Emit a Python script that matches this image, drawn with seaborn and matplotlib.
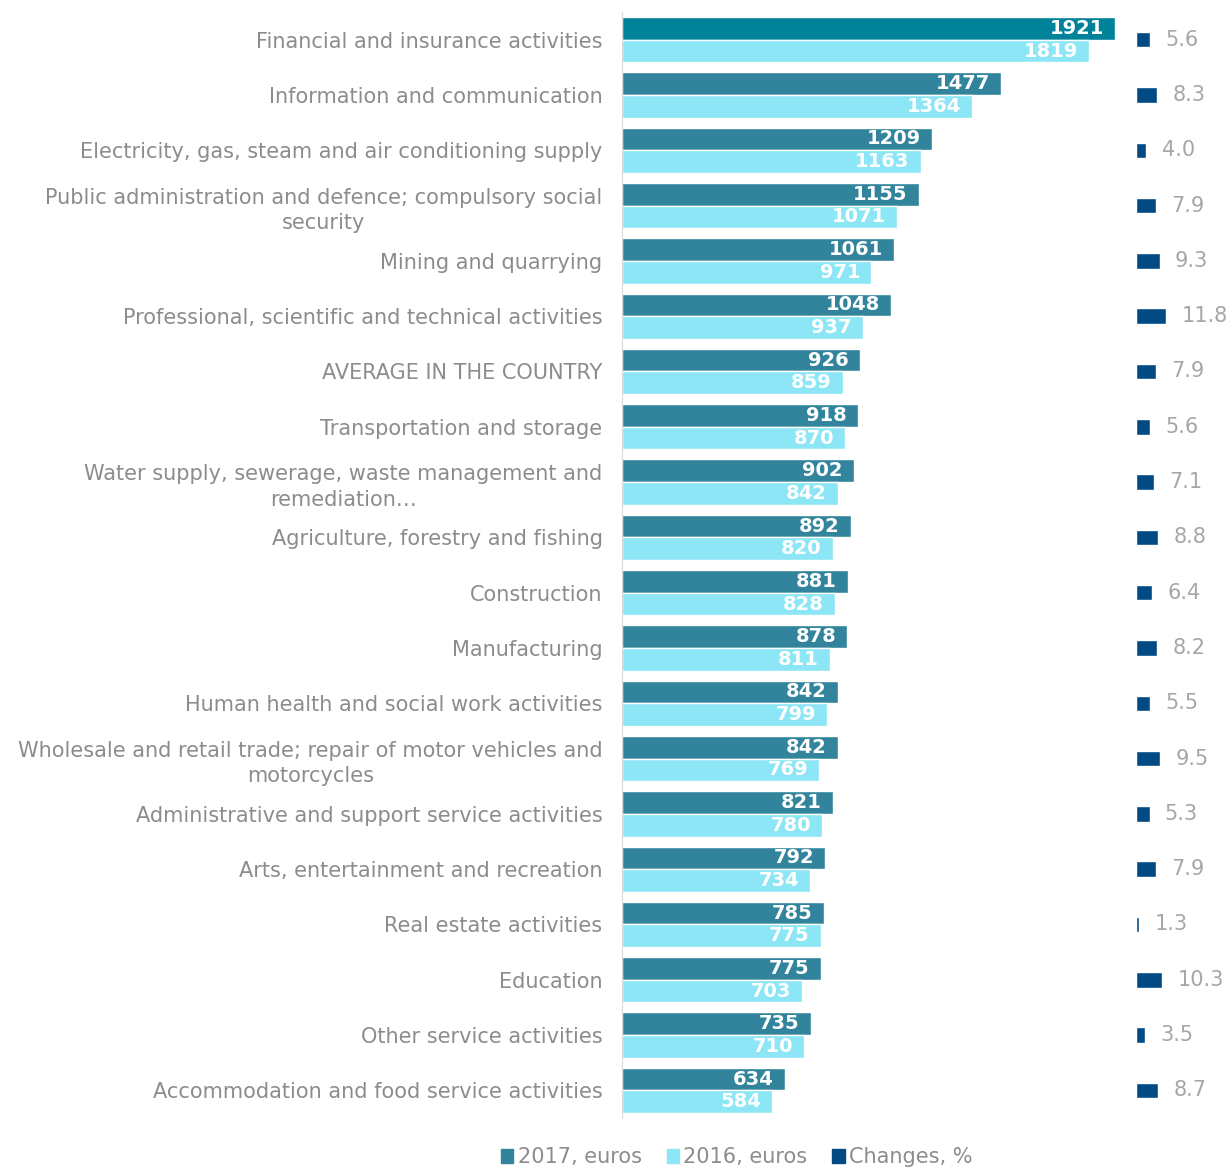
import pandas as pd
import matplotlib.pyplot as plt
import seaborn as sns
from matplotlib.patches import Patch

# data
categories = [
    "Financial and insurance activities",
    "Information and communication",
    "Electricity, gas, steam and air conditioning supply",
    "Public administration and defence; compulsory social\nsecurity",
    "Mining and quarrying",
    "Professional, scientific and technical activities",
    "AVERAGE IN THE COUNTRY",
    "Transportation and storage",
    "Water supply, sewerage, waste management and\nremediation\u2026",
    "Agriculture, forestry and fishing",
    "Construction",
    "Manufacturing",
    "Human health and social work activities",
    "Wholesale and retail trade; repair of motor vehicles and\nmotorcycles",
    "Administrative and support service activities",
    "Arts, entertainment and recreation",
    "Real estate activities",
    "Education",
    "Other service activities",
    "Accommodation and food service activities",
]
wage_2017 = [1921, 1477, 1209, 1155, 1061, 1048, 926, 918, 902, 892,
             881, 878, 842, 842, 821, 792, 785, 775, 735, 634]
wage_2016 = [1819, 1364, 1163, 1071, 971, 937, 859, 870, 842, 820,
             828, 811, 799, 769, 780, 734, 775, 703, 710, 584]
changes = [5.6, 8.3, 4.0, 7.9, 9.3, 11.8, 7.9, 5.6, 7.1, 8.8,
           6.4, 8.2, 5.5, 9.5, 5.3, 7.9, 1.3, 10.3, 3.5, 8.7]
series = ["2017, euros", "2016, euros"]

c2017 = "#31849B"
c2016 = "#8CE6F5"
cchg = "#024A84"
grey = "#8C8C8C"

long = pd.DataFrame({
    "category": categories * 2,
    "series": [series[0]] * len(categories) + [series[1]] * len(categories),
    "value": wage_2017 + wage_2016,
})
chg = pd.DataFrame({"category": categories, "change": changes})

sns.set_style("white")
plt.rcParams["font.family"] = ["DejaVu Sans"]

fig = plt.figure(figsize=(12.32, 11.69), dpi=100)
bottom, height = 0.0436, 0.9461
ax = fig.add_axes([0.5049, bottom, 0.4042, height])
ax2 = fig.add_axes([0.9221, bottom, 0.0779, height])

sns.barplot(data=long, y="category", x="value", hue="series", orient="h",
            palette=[c2017, c2016], width=0.82, ax=ax, legend=False,
            saturation=1)
ax.set_xlim(0, 1940)
ax.set_ylim(len(categories) - 0.5, -0.5)

# first 2017 bar is a slightly different teal in the original
ax.containers[0].patches[0].set_facecolor("#00839A")

for cont in ax.containers:
    for p, v in zip(cont.patches, cont.datavalues):
        ax.annotate(f"{v:.0f}", (p.get_x() + p.get_width(), p.get_y() + p.get_height() / 2),
                    xytext=(-8, 0), textcoords="offset points", ha="right", va="center",
                    color="white", fontsize=14, fontweight="bold")

ax.set_xlabel("")
ax.set_ylabel("")
ax.set_xticks([])
for s in ["top", "right", "bottom"]:
    ax.spines[s].set_visible(False)
ax.spines["left"].set_color("#D9D9D9")
ax.tick_params(axis="y", length=0, pad=14, labelsize=15, labelcolor=grey)
for lbl in ax.get_yticklabels():
    lbl.set_multialignment("center")
    lbl.set_linespacing(1.35)

sns.barplot(data=chg, y="category", x="change", orient="h", color=cchg,
            width=0.28, ax=ax2, saturation=1)
ax2.set_xlim(0, 37.6)
ax2.set_ylim(len(categories) - 0.5, -0.5)
for p, v in zip(ax2.containers[0].patches, changes):
    ax2.annotate(f"{v:.1f}", (p.get_x() + p.get_width(), p.get_y() + p.get_height() / 2),
                 xytext=(11, 0), textcoords="offset points", ha="left", va="center",
                 color="#A6A6A6", fontsize=15, annotation_clip=False)
ax2.axis("off")

handles = [Patch(color=c2017, label=series[0]),
           Patch(color=c2016, label=series[1]),
           Patch(color=cchg, label="Changes, %")]
fig.legend(handles=handles, loc="center", bbox_to_anchor=(0.598, 0.01), ncol=3,
           frameon=False, fontsize=15, labelcolor=grey, handlelength=0.6,
           handleheight=0.6, handletextpad=0.2, columnspacing=1.2)

fig.savefig("out.png", dpi=100)
